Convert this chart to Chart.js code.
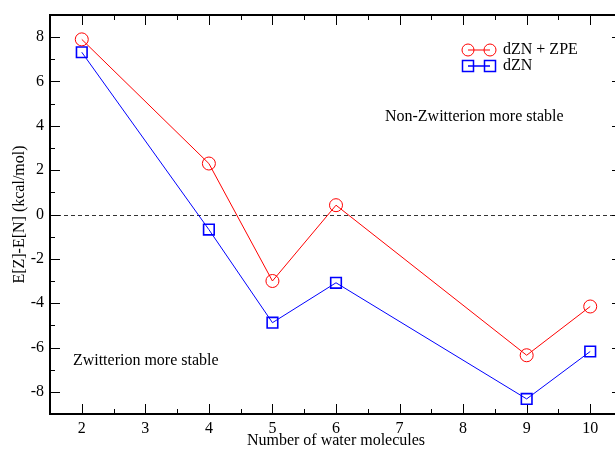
<!DOCTYPE html>
<html><head><meta charset="utf-8">
<script src="https://cdn.jsdelivr.net/npm/chart.js@4/dist/chart.umd.min.js"></script>
<style>html,body{margin:0;padding:0;overflow:hidden;background:#fff}#wrap{width:625px;height:450px}canvas{display:block}</style>
</head><body>
<div id="wrap"><canvas id="c" width="625" height="450" style="width:625px;height:450px"></canvas></div>
<script>
const waters = [2, 4, 5, 6, 9, 10];
const dznZpe = [7.9, 2.3, -3.0, 0.42, -6.35, -4.15];
const dzn = [7.32, -0.68, -4.88, -3.08, -8.32, -6.18];
const xTicks = [2, 3, 4, 5, 6, 7, 8, 9, 10];
const yTicks = [-8, -6, -4, -2, 0, 2, 4, 6, 8];
const seriesNames = ['dZN + ZPE', 'dZN'];
const annotations = ['Non-Zwitterion more stable', 'Zwitterion more stable'];

const FONT = '"Liberation Serif", "DejaVu Serif", serif';

const framePlugin = {
  id: 'frame',
  beforeDatasetsDraw(chart) {
    const {ctx, chartArea: a, scales: {x, y}} = chart;
    ctx.save();
    const y0 = y.getPixelForValue(0);
    ctx.strokeStyle = '#333';
    ctx.lineWidth = 1;
    ctx.setLineDash([4, 3]);
    ctx.beginPath(); ctx.moveTo(a.left, Math.round(y0) + 0.5); ctx.lineTo(a.right, Math.round(y0) + 0.5); ctx.stroke();
    ctx.setLineDash([]);
    ctx.strokeStyle = '#000';
    ctx.lineWidth = 2;
    ctx.strokeRect(a.left, a.top, a.right - a.left, a.bottom - a.top);
    ctx.lineWidth = 1;
    ctx.beginPath();
    xTicks.forEach(v => {
      const px = Math.round(x.getPixelForValue(v)) + 0.5;
      ctx.moveTo(px, a.bottom); ctx.lineTo(px, a.bottom - 10);
      ctx.moveTo(px, a.top); ctx.lineTo(px, a.top + 10);
      if (v + 0.5 < x.max) {
        const pm = Math.round(x.getPixelForValue(v + 0.5)) + 0.5;
        ctx.moveTo(pm, a.bottom); ctx.lineTo(pm, a.bottom - 5);
        ctx.moveTo(pm, a.top); ctx.lineTo(pm, a.top + 5);
      }
    });
    yTicks.forEach(v => {
      const py = Math.round(y.getPixelForValue(v)) + 0.5;
      ctx.moveTo(a.left, py); ctx.lineTo(a.left + 10, py);
      ctx.moveTo(a.right, py); ctx.lineTo(a.right - 10, py);
      [v - 1, v + 1].forEach(m => {
        if (m > y.min && m < y.max && Math.abs(m) % 2 === 1) {
          const pm = Math.round(y.getPixelForValue(m)) + 0.5;
          ctx.moveTo(a.left, pm); ctx.lineTo(a.left + 5, pm);
          ctx.moveTo(a.right, pm); ctx.lineTo(a.right - 5, pm);
        }
      });
    });
    ctx.stroke();
    ctx.restore();
  },
  afterDatasetsDraw(chart) {
    const {ctx, scales: {x, y}} = chart;
    ctx.save();
    ctx.fillStyle = '#000';
    ctx.font = '16px ' + FONT;
    ctx.textBaseline = 'middle';
    ctx.textAlign = 'left';
    ctx.fillText(annotations[0], x.getPixelForValue(6.77), y.getPixelForValue(4.42));
    ctx.fillText(annotations[1], x.getPixelForValue(1.86), y.getPixelForValue(-6.6));
    const lx = 468, rows = [50, 66];
    const colors = ['#ff0000', '#0000ff'];
    rows.forEach((ly, i) => {
      ctx.strokeStyle = colors[i];
      ctx.lineWidth = i === 0 ? 1 : 1.5;
      ctx.beginPath(); ctx.moveTo(lx, ly); ctx.lineTo(lx + 22, ly); ctx.stroke();
      [lx, lx + 22].forEach(cx => {
        ctx.beginPath();
        if (i === 0) ctx.arc(cx, ly, 6, 0, Math.PI * 2);
        else ctx.rect(cx - 5.5, ly - 5.5, 11, 11);
        ctx.stroke();
      });
      ctx.fillStyle = '#000';
      ctx.fillText(seriesNames[i], lx + 35, ly);
    });
    ctx.restore();
  }
};

new Chart(document.getElementById('c'), {
  type: 'line',
  data: {
    datasets: [
      {label: seriesNames[0], data: waters.map((w, i) => ({x: w, y: dznZpe[i]})),
       borderColor: '#ff0000', borderWidth: 1, pointStyle: 'circle', pointRadius: 6.5,
       pointBorderColor: '#ff0000', pointBackgroundColor: 'rgba(0,0,0,0)', pointBorderWidth: 1, tension: 0},
      {label: seriesNames[1], data: waters.map((w, i) => ({x: w, y: dzn[i]})),
       borderColor: '#0000ff', borderWidth: 1, pointStyle: 'rect', pointRadius: 7.5,
       pointBorderColor: '#0000ff', pointBackgroundColor: 'rgba(0,0,0,0)', pointBorderWidth: 1.6, tension: 0}
    ]
  },
  options: {
    responsive: false, animation: false,
    layout: {autoPadding: false, padding: {top: 15, right: 3, left: 0, bottom: 0}},
    plugins: {legend: {display: false}, tooltip: {enabled: false}},
    scales: {
      x: {type: 'linear', min: 1.5, max: 10.5,
          afterBuildTicks: s => { s.ticks = xTicks.map(v => ({value: v})); },
          afterFit: s => { s.height = 36; s.paddingLeft = 0; s.paddingRight = 0; },
          grid: {display: false, drawTicks: false}, border: {display: false},
          ticks: {color: '#000', font: {family: FONT, size: 16}, padding: 5},
          title: {display: true, text: 'Number of water molecules', color: '#000', font: {family: FONT, size: 16}, padding: 0}},
      y: {type: 'linear', min: -9, max: 9,
          afterBuildTicks: s => { s.ticks = yTicks.map(v => ({value: v})); },
          afterFit: s => { s.width = 50; s.paddingTop = 0; s.paddingBottom = 0; },
          grid: {display: false, drawTicks: false}, border: {display: false},
          ticks: {color: '#000', font: {family: FONT, size: 16}, padding: 6},
          title: {display: true, text: 'E[Z]-E[N] (kcal/mol)', color: '#000', font: {family: FONT, size: 16}, padding: {top: 10, bottom: 0}}}
    }
  },
  plugins: [framePlugin]
});
</script>
</body></html>
